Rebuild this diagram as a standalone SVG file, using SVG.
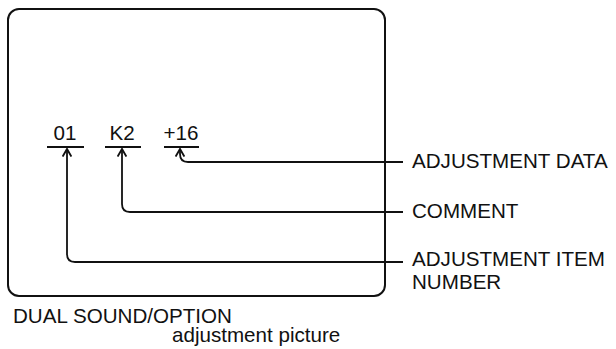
<svg xmlns="http://www.w3.org/2000/svg" width="616" height="349" viewBox="0 0 616 349">
<style>
.t{font-family:"Liberation Sans",Arial,sans-serif;font-size:20.6px;fill:#111}
.ln{fill:none;stroke:#111;stroke-width:1.8}
.ul{stroke:#111;stroke-width:2}
</style>
<defs>
<marker id="ah" viewBox="0 0 10 10" refX="9" refY="5" markerWidth="10" markerHeight="10" markerUnits="userSpaceOnUse" orient="auto">
<path d="M1.5,0.6 L9,5 L1.5,9.4" fill="none" stroke="#111" stroke-width="1.9"/>
</marker>
</defs>
<g id="screen">
<rect x="8" y="9" width="377" height="287" rx="11" ry="11" fill="none" stroke="#111" stroke-width="2"/>
</g>
<g id="item-number-field">
<text class="t" x="65" y="140" text-anchor="middle">01</text>
<line class="ul" x1="47" y1="147" x2="84" y2="147"/>
</g>
<g id="comment-field">
<text class="t" x="122" y="140" text-anchor="middle">K2</text>
<line class="ul" x1="105" y1="147" x2="141" y2="147"/>
</g>
<g id="data-field">
<text class="t" x="181" y="140" text-anchor="middle">+16</text>
<line class="ul" x1="164" y1="147" x2="199" y2="147"/>
</g>
<g id="connectors">
<path class="ln" d="M403,162 L188,162 Q180,162 180,154 L180,149" marker-end="url(#ah)"/>
<path class="ln" d="M403,212 L130,212 Q122,212 122,204 L122,149" marker-end="url(#ah)"/>
<path class="ln" d="M403,262 L75,262 Q67,262 67,254 L67,149" marker-end="url(#ah)"/>
</g>
<g id="label-data">
<text class="t" x="412" y="168">ADJUSTMENT DATA</text>
</g>
<g id="label-comment">
<text class="t" x="412" y="218">COMMENT</text>
</g>
<g id="label-item">
<text class="t" x="412" y="266">ADJUSTMENT ITEM</text>
<text class="t" x="412" y="289">NUMBER</text>
</g>
<g id="caption">
<text class="t" x="13" y="323">DUAL SOUND/OPTION</text>
<text class="t" x="172" y="342">adjustment picture</text>
</g>
</svg>
